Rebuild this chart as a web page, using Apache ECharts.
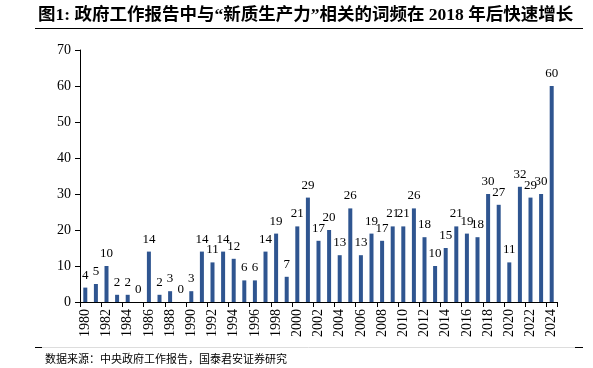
<!DOCTYPE html>
<html><head><meta charset="utf-8">
<script src="https://cdn.jsdelivr.net/npm/echarts@6/dist/echarts.min.js"></script>
<style>html,body{margin:0;padding:0;background:#fff;}#c{width:593px;height:368px;}</style>
</head><body><div id="c"></div>
<script>
var years = [];
for (var y = 1980; y <= 2024; y++) years.push(String(y));
var counts = [4,5,10,2,2,0,14,2,3,0,3,14,11,14,12,6,6,14,19,7,21,29,17,20,13,26,13,19,17,21,21,26,18,10,15,21,19,18,30,27,11,32,29,30,60];
var yMin = 0, yMax = 70, yStep = 10;
var titleText = '图1: 政府工作报告中与“新质生产力”相关的词频在 2018 年后快速增长';
var sourceText = '数据来源：中央政府工作报告，国泰君安证券研究';

var serif = '"Liberation Serif","Times New Roman",serif';
var chart = echarts.init(document.getElementById('c'), null, {renderer:'canvas'});
chart.setOption({
  animation:false,
  grid:{left:80,right:36,top:50,bottom:66,containLabel:false},
  xAxis:{type:'category',data:years,boundaryGap:true,
    axisLine:{lineStyle:{color:'#000',width:1}},
    axisTick:{show:true,interval:1,length:5,lineStyle:{color:'#000'}},
    axisLabel:{interval:1,rotate:90,color:'#000',fontFamily:serif,fontSize:14,margin:7}},
  yAxis:{type:'value',min:yMin,max:yMax,interval:yStep,
    splitLine:{show:false},
    axisLine:{show:true,lineStyle:{color:'#000',width:1}},
    axisTick:{show:true,length:5,lineStyle:{color:'#000'}},
    axisLabel:{color:'#000',fontFamily:serif,fontSize:14,margin:9}},
  series:[{type:'bar',data:counts,barWidth:4,itemStyle:{color:'#2F5590'},
    label:{show:true,position:'top',distance:6,color:'#000',fontFamily:serif,fontSize:13}}],
  graphic:[
    {type:'text',left:38,top:7,style:{text:titleText,font:'bold 17.5px "Liberation Serif","Noto Sans CJK SC",serif',fill:'#000'}},
    {type:'line',shape:{x1:35,y1:28.5,x2:583,y2:28.5},style:{stroke:'#000',lineWidth:1}},
    {type:'line',shape:{x1:42,y1:347.5,x2:575,y2:347.5},style:{stroke:'#ddd',lineWidth:1}},
    {type:'line',shape:{x1:35,y1:347.5,x2:42,y2:347.5},style:{stroke:'#000',lineWidth:1}},
    {type:'line',shape:{x1:575,y1:347.5,x2:583,y2:347.5},style:{stroke:'#000',lineWidth:1}},
    {type:'text',left:45,top:353,style:{text:sourceText,font:'11px "Noto Sans CJK SC",sans-serif',fill:'#000'}}
  ]
});
</script></body></html>
